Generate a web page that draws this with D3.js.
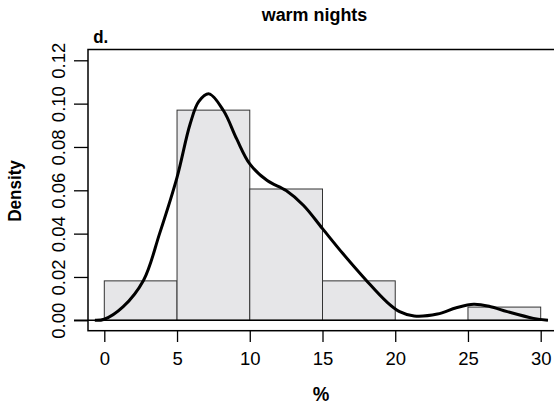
<!DOCTYPE html>
<html>
<head>
<meta charset="utf-8">
<script src="https://cdn.jsdelivr.net/npm/d3@7"></script>
<style>
  body { margin: 0; background: #fff; }
  svg text { font-family: "Liberation Sans Narrow", "Arial Narrow", "Liberation Sans", sans-serif; fill: #000; }
</style>
</head>
<body>
<svg width="554" height="406"></svg>
<script>

// histogram: breaks and density of each bin
var breaks = [0, 5, 10, 15, 20, 25, 30];
var densities = [0.0182, 0.0970, 0.0606, 0.0182, 0, 0.0061];

// kernel density curve
var kdeX = [-0.65, 0, 1.3, 2.7, 3.8, 5.0, 5.9, 6.5, 7.2, 8.2, 9.1, 10.0, 11.2, 12.5, 13.7, 15.0, 16.4, 18.0, 19.4, 20.3, 21.3, 22.9, 24.2, 25.4, 26.5, 27.7, 29.5, 30.5];
var kdeY = [0, 0.0005, 0.0063, 0.0185, 0.040, 0.066, 0.0906, 0.101, 0.1045, 0.0967, 0.0837, 0.0722, 0.0645, 0.0599, 0.053, 0.0423, 0.0308, 0.0185, 0.0086, 0.004, 0.002, 0.0029, 0.0058, 0.0074, 0.0064, 0.004, 0.0009, 0];

var xTicks = [0, 5, 10, 15, 20, 25, 30];
var yTicks = [0, 0.02, 0.04, 0.06, 0.08, 0.10, 0.12];

var svg = d3.select("svg");

var x = d3.scaleLinear().domain([0, 30]).range([104.3, 540.7]);
var y = d3.scaleLinear().domain([0, 0.12]).range([320.3, 60.3]);

var bins = densities.map(function(d, i) {
  return {x0: breaks[i], x1: breaks[i + 1], density: d};
});

// bars
svg.append("g").selectAll("rect")
  .data(bins)
  .enter().append("rect")
  .attr("x", function(d) { return x(d.x0); })
  .attr("y", function(d) { return y(d.density); })
  .attr("width", function(d) { return x(d.x1) - x(d.x0); })
  .attr("height", function(d) { return y(0) - y(d.density); })
  .attr("fill", "#e6e6e8")
  .attr("stroke", "#333")
  .attr("stroke-width", 1);

// zero line
svg.append("line")
  .attr("x1", 74).attr("x2", 548)
  .attr("y1", y(0)).attr("y2", y(0))
  .attr("stroke", "#000").attr("stroke-width", 1.5);

// density curve
var line = d3.line()
  .x(function(d) { return x(d[0]); })
  .y(function(d) { return y(d[1]); })
  .curve(d3.curveCatmullRom);

svg.append("path")
  .datum(d3.zip(kdeX, kdeY))
  .attr("d", line)
  .attr("fill", "none")
  .attr("stroke", "#000")
  .attr("stroke-width", 3)
  .attr("stroke-linejoin", "round");

// box
svg.append("rect")
  .attr("x", 88).attr("y", 49.5)
  .attr("width", 480).attr("height", 281.2)
  .attr("fill", "none")
  .attr("stroke", "#000").attr("stroke-width", 1.5);

// x axis
var gx = svg.append("g")
  .attr("transform", "translate(0,331)")
  .call(d3.axisBottom(x).tickValues(xTicks).tickSize(11).tickPadding(10).tickFormat(d3.format("d")));
gx.select(".domain").remove();
gx.selectAll("line").attr("stroke", "#000").attr("stroke-width", 1.3);
gx.selectAll("text").attr("font-size", 18.5).attr("font-family", null);

// y axis, labels turned like R does
var gy = svg.append("g")
  .attr("transform", "translate(88,0)")
  .call(d3.axisLeft(y).tickValues(yTicks).tickSize(14).tickFormat(d3.format(".2f")));
gy.select(".domain").remove();
gy.selectAll("line").attr("stroke", "#000").attr("stroke-width", 1.3);
gy.selectAll("text")
  .attr("x", 0).attr("dy", null)
  .attr("text-anchor", "middle")
  .attr("transform", "translate(-23,0) rotate(-90)")
  .attr("font-size", 18.5).attr("font-family", null);

// titles
svg.append("text")
  .attr("x", 314.5).attr("y", 20.7)
  .attr("text-anchor", "middle")
  .attr("font-weight", "bold").attr("font-size", 17.5)
  .attr("textLength", 105.6).attr("lengthAdjust", "spacingAndGlyphs")
  .text("warm nights");

svg.append("text")
  .attr("x", 93.3).attr("y", 43.3)
  .attr("font-weight", "bold").attr("font-size", 18.5)
  .attr("textLength", 15).attr("lengthAdjust", "spacingAndGlyphs")
  .text("d.");

svg.append("text")
  .attr("transform", "translate(20.7,191) rotate(-90)")
  .attr("text-anchor", "middle")
  .attr("font-weight", "bold").attr("font-size", 18)
  .attr("textLength", 61.7).attr("lengthAdjust", "spacingAndGlyphs")
  .text("Density");

svg.append("text")
  .attr("x", 321).attr("y", 401)
  .attr("text-anchor", "middle")
  .attr("font-weight", "bold").attr("font-size", 20)
  .attr("textLength", 16.6).attr("lengthAdjust", "spacingAndGlyphs")
  .text("%");

</script>
</body>
</html>
